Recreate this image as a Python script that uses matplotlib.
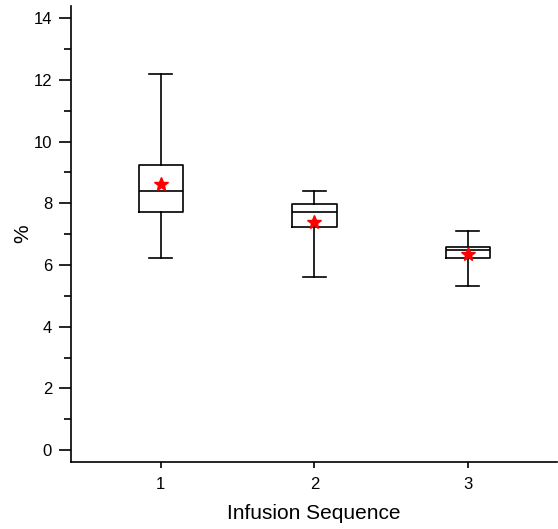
import numpy as np
import matplotlib.pyplot as plt
from matplotlib.ticker import MultipleLocator

plt.rcParams['font.family'] = ['Liberation Sans', 'DejaVu Sans']

# Box statistics
groups = [1, 2, 3]
whislo = [6.22, 5.61, 5.31]
q1 = [7.71, 7.24, 6.21]
med = [8.39, 7.71, 6.48]
q3 = [9.24, 7.97, 6.59]
whishi = [12.18, 8.39, 7.11]
means = [8.62, 7.40, 6.34]

stats = []
for i in range(len(groups)):
    stats.append({'whislo': whislo[i], 'q1': q1[i], 'med': med[i],
                  'q3': q3[i], 'whishi': whishi[i], 'mean': means[i],
                  'fliers': []})

fig = plt.figure(figsize=(5.58, 5.29), dpi=100)
ax = fig.add_axes([0.127, 0.127, 0.871, 0.862])

line = dict(color='black', linewidth=1.2)
ax.bxp(stats, positions=groups, widths=0.29, showmeans=True,
       boxprops=line, whiskerprops=line, capprops=line, medianprops=line,
       meanprops=dict(marker='*', markerfacecolor='red', markeredgecolor='red',
                      markersize=10),
       capwidths=0.15, manage_ticks=False)

ax.set_xlim(0.414, 3.58)
ax.set_ylim(-0.38, 14.4)
ax.set_xticks(groups)
ax.set_xticklabels([str(g) for g in groups])
ax.yaxis.set_major_locator(MultipleLocator(2))
ax.yaxis.set_minor_locator(MultipleLocator(1))

ax.spines['top'].set_visible(False)
ax.spines['right'].set_visible(False)
ax.spines['left'].set_linewidth(1.2)
ax.spines['bottom'].set_linewidth(1.2)
ax.tick_params(axis='y', which='major', length=8.5, width=1.2, labelsize=12, pad=5)
ax.tick_params(axis='y', which='minor', length=5, width=1.2)
ax.tick_params(axis='x', length=4, width=1.2, labelsize=12, pad=7)

ax.set_xlabel('Infusion Sequence', fontsize=15)
ax.xaxis.set_label_coords(0.5, -0.093)
ax.set_ylabel('%', fontsize=15)
ax.yaxis.set_label_coords(-0.08, 0.5)

plt.savefig('out.png')
